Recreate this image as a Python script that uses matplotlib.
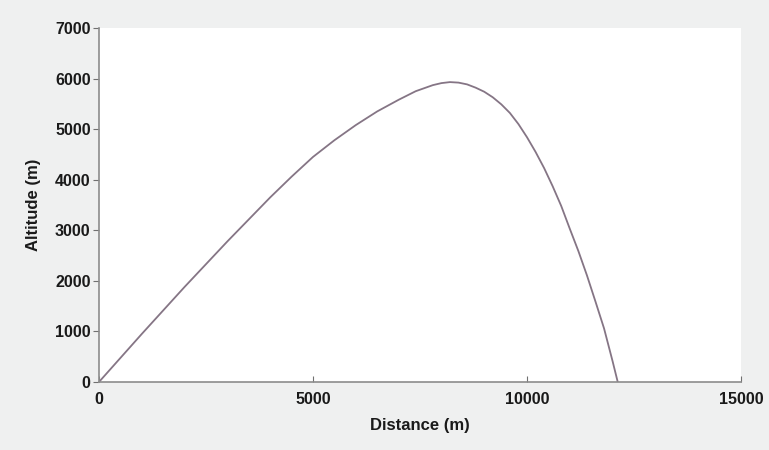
import numpy as np
import matplotlib.pyplot as plt

plt.rcParams['font.family'] = ['Liberation Sans', 'DejaVu Sans']

# trajectòria llegida de la figura (m)
distance = [0, 1000, 2000, 3000, 4000, 4500, 5000, 5500, 6000, 6500, 7000,
            7400, 7800, 8000, 8200, 8400, 8600, 8800, 9000, 9200, 9400,
            9600, 9800, 10000, 10200, 10400, 10600, 10800, 11000, 11200,
            11400, 11600, 11800, 12000, 12120]
altitude = [0, 950, 1880, 2780, 3650, 4060, 4450, 4780, 5080, 5350, 5580,
            5750, 5870, 5910, 5930, 5920, 5885, 5820, 5740, 5630, 5490,
            5320, 5100, 4840, 4550, 4230, 3870, 3480, 3030, 2590, 2110,
            1590, 1060, 410, 0]

xticks = [0, 5000, 10000, 15000]
yticks = [0, 1000, 2000, 3000, 4000, 5000, 6000, 7000]

fig = plt.figure(figsize=(7.69, 4.5), dpi=100, facecolor='#eff0f0')
ax = fig.add_axes([0.1287, 0.1511, 0.8349, 0.7867])
ax.set_facecolor('white')

ax.plot(distance, altitude, color='#857585', lw=1.3)

ax.set_xlim(0, 15000)
ax.set_ylim(0, 7000)
ax.set_xticks(xticks)
ax.set_yticks(yticks)

for s in ['top', 'right']:
    ax.spines[s].set_visible(False)
for s in ['left', 'bottom']:
    ax.spines[s].set_color('#8c8c8c')
    ax.spines[s].set_linewidth(1.2)

ax.tick_params(axis='x', direction='in', length=4, color='#707070',
               labelsize=11.5, pad=7)
ax.tick_params(axis='y', direction='out', length=4, color='#707070',
               labelsize=11.5, pad=2)
for lab in ax.get_xticklabels() + ax.get_yticklabels():
    lab.set_fontweight('bold')
    lab.set_color('#1a1a1a')

ax.set_xlabel("Distance (m)", fontsize=12, fontweight='bold', color='#1a1a1a',
              labelpad=8)
ax.set_ylabel("Altitude (m)", fontsize=12, fontweight='bold', color='#1a1a1a',
              labelpad=10)

fig.savefig('out.png', dpi=100, facecolor=fig.get_facecolor())
